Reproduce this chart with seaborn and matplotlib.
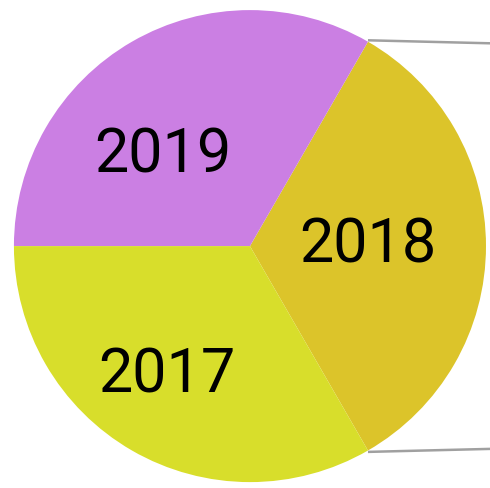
import matplotlib
matplotlib.use("Agg")
import matplotlib.pyplot as plt
import seaborn as sns

# Data
years = ["2018", "2019", "2017"]
values = [1, 1, 1]
colors = ["#DCC42A", "#CB7FE3", "#D8DE2B"]

sns.set_theme(style="white")
plt.rcParams['font.family'] = ['Roboto', 'DejaVu Sans']

fig = plt.figure(figsize=(4.9, 4.89), dpi=100)
ax = fig.add_axes([0, 0, 1, 1])
ax.axis("off")

wedges, _ = ax.pie(values, colors=colors, startangle=-60, counterclock=True,
                   radius=1, wedgeprops=dict(linewidth=0))

# connector lines (cropped bar-of-pie)
ax.plot([0.5, 1.6], [0.872, 0.845], color="#a0a0a0", lw=1.8, solid_capstyle="butt", zorder=0)
ax.plot([0.5, 1.6], [-0.872, -0.845], color="#a0a0a0", lw=1.8, solid_capstyle="butt", zorder=0)

label_pos = {"2019": (-0.369, 0.314), "2018": (0.5, -0.064), "2017": (-0.352, -0.614)}
for y in years:
    x0, y0 = label_pos[y]
    ax.text(x0, y0, y, ha="center", va="baseline", fontsize=44, color="black")

ax.set_xlim(-1.059, 1.017)
ax.set_ylim(-1.025, 1.047)
ax.set_aspect("auto")

fig.savefig("out.png", dpi=100, facecolor="white")
